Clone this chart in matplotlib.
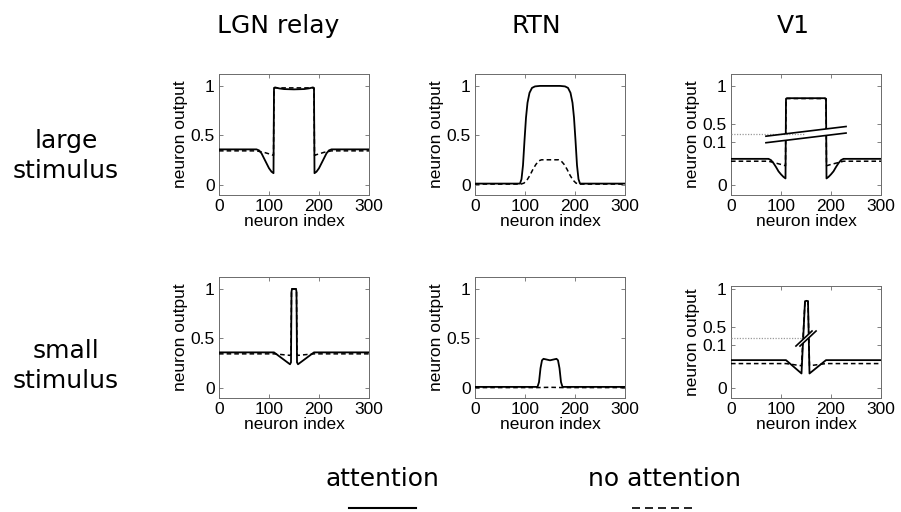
"""Thalamo-cortical attention model: neuron output profiles for large/small stimulus."""

import numpy as np
import matplotlib

matplotlib.use("Agg")
import matplotlib.pyplot as plt
from matplotlib.lines import Line2D
from matplotlib.patches import Polygon

# ---- data ----
COL_TITLES = ["LGN relay", "RTN", "V1"]
ROW_LABELS = ["large\nstimulus", "small\nstimulus"]

LGN_LARGE_X = [0, 75, 80, 85, 90, 95, 100, 105, 109, 110, 112, 120, 130, 150, 170, 180, 188,
               190, 191, 195, 200, 205, 210, 215, 220, 225, 300]
LGN_LARGE_ATT = [0.36, 0.36, 0.35, 0.32, 0.27, 0.22, 0.17, 0.135, 0.12, 0.975, 0.985, 0.975, 0.968,
                 0.965, 0.968, 0.975, 0.985, 0.975, 0.12, 0.135, 0.17, 0.22, 0.27, 0.32, 0.35, 0.36, 0.36]
LGN_LARGE_NOATT_X = [0, 75, 90, 100, 109, 110, 190, 191, 200, 210, 225, 300]
LGN_LARGE_NOATT = [0.345, 0.345, 0.33, 0.315, 0.30, 0.98, 0.98, 0.30, 0.315, 0.33, 0.345, 0.345]

RTN_LARGE_X = [0, 90, 93, 96, 99, 102, 105, 109, 114, 120, 130, 170, 180, 186, 191, 195, 198,
               201, 204, 207, 210, 300]
RTN_LARGE_ATT = [0.015, 0.015, 0.06, 0.2, 0.45, 0.68, 0.83, 0.93, 0.98, 0.995, 1.0, 1.0, 0.995,
                 0.98, 0.93, 0.83, 0.68, 0.45, 0.2, 0.06, 0.015, 0.015]
RTN_LARGE_NOATT_X = [0, 92, 98, 104, 110, 116, 122, 128, 133, 167, 172, 178, 184, 190, 196, 202, 208, 300]
RTN_LARGE_NOATT = [0.01, 0.01, 0.02, 0.05, 0.1, 0.16, 0.21, 0.245, 0.255, 0.255, 0.245, 0.21,
                   0.16, 0.1, 0.05, 0.02, 0.01, 0.01]

V1_LARGE_X = [0, 75, 80, 85, 90, 95, 100, 105, 109, 110, 112, 188, 190, 191, 195, 200, 205,
              210, 215, 220, 225, 300]
V1_LARGE_ATT = [0.061, 0.061, 0.058, 0.051, 0.042, 0.032, 0.025, 0.019, 0.0155, 0.83, 0.84, 0.84,
                0.83, 0.0155, 0.019, 0.025, 0.032, 0.042, 0.051, 0.058, 0.061, 0.061]
V1_LARGE_NOATT_X = [0, 75, 90, 100, 109, 110, 190, 191, 200, 210, 225, 300]
V1_LARGE_NOATT = [0.0555, 0.0555, 0.051, 0.048, 0.045, 0.835, 0.835, 0.045, 0.048, 0.051, 0.0555, 0.0555]

LGN_SMALL_X = [0, 110, 142, 144, 145, 146, 154, 155, 156, 158, 190, 300]
LGN_SMALL_ATT = [0.36, 0.36, 0.24, 0.26, 0.97, 1.0, 1.0, 0.97, 0.26, 0.24, 0.36, 0.36]
LGN_SMALL_NOATT = [0.345, 0.345, 0.33, 0.34, 0.97, 1.0, 1.0, 0.97, 0.34, 0.33, 0.345, 0.345]

RTN_SMALL_X = [0, 125, 128, 131, 134, 137, 150, 163, 166, 169, 172, 175, 300]
RTN_SMALL_ATT = [0.012, 0.012, 0.06, 0.2, 0.28, 0.295, 0.28, 0.295, 0.28, 0.2, 0.06, 0.012, 0.012]
RTN_SMALL_NOATT_X = [0, 125, 150, 175, 300]
RTN_SMALL_NOATT = [0.005, 0.005, 0.008, 0.005, 0.005]

V1_SMALL_X = [0, 110, 141, 148, 151, 154, 157, 190, 300]
V1_SMALL_ATT = [0.065, 0.065, 0.034, 0.84, 0.845, 0.84, 0.034, 0.065, 0.065]
V1_SMALL_NOATT = [0.057, 0.057, 0.052, 0.84, 0.845, 0.84, 0.052, 0.057, 0.057]

# broken V1 axis: value -> display position (pixels above zero)
V1_Y_NODES = [-1.0, 0.0, 0.1, 0.5, 1.0, 2.0]
V1_D_NODES = [-430.0, 0.0, 43.0, 61.0, 99.0, 175.0]

XTICKS = [0, 100, 200, 300]
YTICKS = [0, 0.5, 1]
V1_YTICKS = [0, 0.1, 0.5, 1]
V1_YTICKLABELS = ["0", "0.1", "0.5", "1"]

W, H = 901, 512
AX_FONT = "Liberation Sans"
TXT_FONT = "DejaVu Sans"
SPINE = "#6b6b6b"


def v1_forward(y):
    return np.interp(y, V1_Y_NODES, V1_D_NODES)


def v1_inverse(d):
    return np.interp(d, V1_D_NODES, V1_Y_NODES)


def fx(px):
    return px / W


def fy(py):
    return 1 - py / H


def style_axes(ax, v1=False):
    ax.set_xlim(0, 300)
    ax.set_xticks(XTICKS)
    if v1:
        ax.set_yscale("function", functions=(v1_forward, v1_inverse))
        ax.set_yticks(V1_YTICKS)
        ax.set_yticklabels(V1_YTICKLABELS)
    else:
        ax.set_yticks(YTICKS)
        ax.set_yticklabels(["0", "0.5", "1"])
    ax.minorticks_off()
    ax.tick_params(direction="in", length=3, width=0.6, color=SPINE, top=True, right=True,
                   labelsize=12.5, pad=3)
    for lab in ax.get_xticklabels() + ax.get_yticklabels():
        lab.set_fontfamily(AX_FONT)
    for sp in ax.spines.values():
        sp.set_color(SPINE)
        sp.set_linewidth(0.7)
    ax.set_xlabel("neuron index", fontsize=12.5, family=AX_FONT, labelpad=0)
    ax.set_ylabel("neuron output", fontsize=12.5, family=AX_FONT, labelpad=2)


def draw_break(ax, upper, lower, dotted_y, dotted_x):
    tr = ax.transAxes
    ax.plot([0, dotted_x], [dotted_y, dotted_y], transform=tr, color="#9a9a9a", lw=0.9,
            ls=(0, (1, 1.2)), zorder=6, clip_on=False)
    poly = Polygon([upper[0], upper[1], lower[1], lower[0]], closed=True, transform=tr,
                   facecolor="white", edgecolor="none", zorder=5)
    ax.add_patch(poly)
    for seg in (upper, lower):
        ax.plot([seg[0][0], seg[1][0]], [seg[0][1], seg[1][1]], transform=tr, color="black",
                lw=1.2, zorder=7, clip_on=False)


fig = plt.figure(figsize=(W / 100, H / 100), dpi=100)

col_left = [219, 475, 731]
panels = [
    (0, 0, LGN_LARGE_X, LGN_LARGE_ATT, LGN_LARGE_NOATT_X, LGN_LARGE_NOATT),
    (0, 1, RTN_LARGE_X, RTN_LARGE_ATT, RTN_LARGE_NOATT_X, RTN_LARGE_NOATT),
    (0, 2, V1_LARGE_X, V1_LARGE_ATT, V1_LARGE_NOATT_X, V1_LARGE_NOATT),
    (1, 0, LGN_SMALL_X, LGN_SMALL_ATT, LGN_SMALL_X, LGN_SMALL_NOATT),
    (1, 1, RTN_SMALL_X, RTN_SMALL_ATT, RTN_SMALL_NOATT_X, RTN_SMALL_NOATT),
    (1, 2, V1_SMALL_X, V1_SMALL_ATT, V1_SMALL_X, V1_SMALL_NOATT),
]

for row, col, xs, att, xn, noatt in panels:
    v1 = col == 2
    top, bottom = (74, 195) if row == 0 else (277, 398)
    if v1 and row == 1:
        top = 286
    ax = fig.add_axes([fx(col_left[col]), fy(bottom), 150 / W, (bottom - top) / H])
    style_axes(ax, v1)
    ax.plot(xn, noatt, color="black", lw=1.1, ls=(0, (3, 2)), zorder=3)
    ax.plot(xs, att, color="black", lw=1.3, zorder=4)
    if v1:
        ax.set_ylim(-0.023, 1.158 if row == 0 else 1.04)
    else:
        ax.set_ylim(-0.1, 1.12)
    if v1 and row == 0:
        draw_break(ax, [(0.233, 0.486), (0.767, 0.566)], [(0.233, 0.432), (0.767, 0.512)],
                   0.502, 0.493)
    if v1 and row == 1:
        draw_break(ax, [(0.433, 0.464), (0.54, 0.598)], [(0.46, 0.464), (0.567, 0.598)],
                   0.538, 0.473)

# column titles
for title, cx in zip(COL_TITLES, [278, 536, 793]):
    fig.text(fx(cx), fy(26), title, ha="center", va="center", fontsize=18, family=TXT_FONT)

# row labels
for label, cy in zip(ROW_LABELS, [156, 366]):
    fig.text(fx(66), fy(cy), label, ha="center", va="center", fontsize=18, family=TXT_FONT,
             linespacing=1.28)

# legend at bottom
fig.text(fx(382), fy(479), "attention", ha="center", va="center", fontsize=18, family=TXT_FONT)
fig.text(fx(665), fy(479), "no attention", ha="center", va="center", fontsize=18, family=TXT_FONT)
fig.add_artist(Line2D([fx(349), fx(416)], [fy(508), fy(508)], transform=fig.transFigure,
                      color="black", lw=1.5))
fig.add_artist(Line2D([fx(632), fx(692)], [fy(508), fy(508)], transform=fig.transFigure,
                      color="black", lw=1.2, ls=(0, (4.8, 3.0))))

fig.savefig("out.png", dpi=100)
